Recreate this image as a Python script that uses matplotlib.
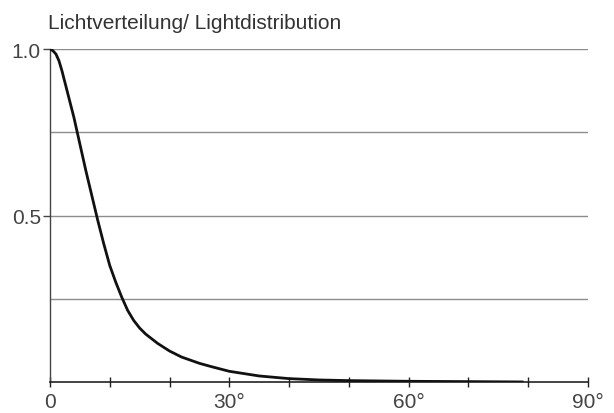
import numpy as np
import matplotlib
matplotlib.use("Agg")
import matplotlib.pyplot as plt

# light distribution (angle in degrees, relative intensity)
angle = [0, 0.5, 1, 1.5, 2, 3, 4, 5, 6, 7, 8, 9, 10, 11, 12, 13, 14, 15, 16,
         18, 20, 22, 25, 27, 30, 35, 40, 45, 50, 60, 70, 79]
intensity = [1.0, 0.995, 0.985, 0.965, 0.935, 0.865, 0.795, 0.715, 0.635,
             0.56, 0.485, 0.415, 0.35, 0.3, 0.255, 0.215, 0.185, 0.162,
             0.144, 0.116, 0.093, 0.075, 0.056, 0.046, 0.032, 0.018, 0.01,
             0.006, 0.004, 0.002, 0.001, 0.0]

xticks = [0, 30, 60, 90]
xlabels = ["0", "30°", "60°", "90°"]
yticks = [0.5, 1.0]
ylabels = ["0.5", "1.0"]
grid_y = [0.25, 0.5, 0.75, 1.0]

plt.rcParams['font.family'] = ['Liberation Sans', 'DejaVu Sans']

fig = plt.figure(figsize=(6.14, 4.14), dpi=100)
ax = fig.add_axes([0.0814, 0.075, 0.876, 0.804])

for g in grid_y:
    ax.axhline(g, color="#8c8c8c", lw=1.0, zorder=1)

ax.plot(angle, intensity, color="#111111", lw=2.0, zorder=3)

ax.set_xlim(0, 90)
ax.set_ylim(0, 1.0)
ax.spines['top'].set_visible(False)
ax.spines['right'].set_visible(False)
ax.spines['left'].set_color("#444444")
ax.spines['bottom'].set_color("#222222")
ax.spines['left'].set_linewidth(1.0)
ax.spines['bottom'].set_linewidth(1.2)

ax.set_xticks(xticks)
ax.set_xticklabels(xlabels)
ax.set_xticks(np.arange(0, 91, 10), minor=True)
ax.set_yticks(yticks)
ax.set_yticklabels(ylabels)
ax.tick_params(axis='x', which='both', direction='inout', length=7, width=1,
               color="#222222", labelsize=15, labelcolor="#444444", pad=4)
ax.tick_params(axis='y', direction='out', length=5, width=1, color="#444444",
               labelsize=15, labelcolor="#444444", pad=1.5)

fig.text(0.078, 0.930, "Lichtverteilung/ Lightdistribution", fontsize=15,
         color="#333333", ha="left", va="baseline")

fig.savefig("out.png", dpi=100)
